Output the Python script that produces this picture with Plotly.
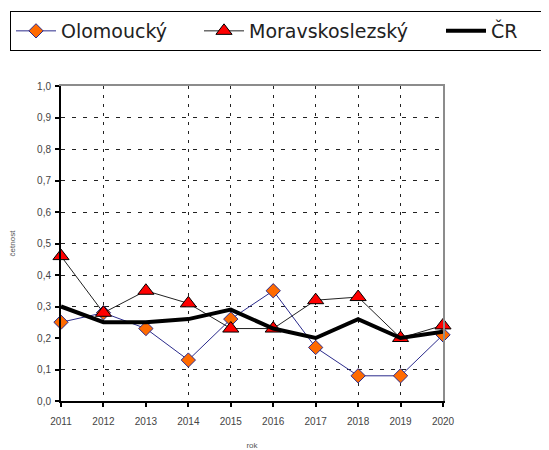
import plotly.graph_objects as go

years = [2011, 2012, 2013, 2014, 2015, 2016, 2017, 2018, 2019, 2020]
year_labels = [str(y) for y in years]
olomoucky = [0.25, 0.28, 0.23, 0.13, 0.26, 0.35, 0.17, 0.08, 0.08, 0.21]
moravskoslezsky = [0.46, 0.28, 0.35, 0.31, 0.23, 0.23, 0.32, 0.33, 0.20, 0.24]
cr = [0.30, 0.25, 0.25, 0.26, 0.29, 0.23, 0.20, 0.26, 0.20, 0.22]
grid_years = [2012, 2014, 2015, 2016, 2017, 2018, 2019]
grid_values = [0.1, 0.3, 0.4, 0.5, 0.6, 0.7, 0.8, 0.9]

# page has an 8px body margin; figure sized to fill the rest of the window
OFF = 8
W, H = 549 - OFF, 450 - OFF
xdom = [(61 - OFF) / W, (443 - OFF) / W]
ydom = [(H - (401 - OFF)) / H, (H - (86 - OFF)) / H]

fig = go.Figure()
fig.add_trace(go.Scatter(
    x=years, y=olomoucky, name="Olomoucký", mode="lines+markers",
    line=dict(color="#2B2B8C", width=1),
    marker=dict(symbol="diamond", size=11, color="#FF6A00",
                line=dict(color="#2B2B8C", width=1)),
    cliponaxis=False, legendwidth=133,
))
fig.add_trace(go.Scatter(
    x=years, y=moravskoslezsky, name="Moravskoslezský", mode="lines+markers",
    line=dict(color="#222222", width=1),
    marker=dict(symbol="triangle-up", size=14, color="#FF0000",
                line=dict(color="#000000", width=1)),
    cliponaxis=False, legendwidth=187,
))
fig.add_trace(go.Scatter(
    x=years, y=cr, name="ČR", mode="lines",
    line=dict(color="#000000", width=4),
    cliponaxis=False, legendwidth=45,
))
# carrier trace for overlay axes (grid + border)
fig.add_trace(go.Scatter(
    x=[None], y=[None], xaxis="x2", yaxis="y2", showlegend=False,
    hoverinfo="skip", mode="lines",
))

tickfont = dict(family="Liberation Sans", size=10, color="#444444")
titlefont = dict(family="Liberation Sans", size=8, color="#555555")

fig.update_layout(
    width=W, height=H,
    margin=dict(l=0, r=0, t=0, b=0),
    paper_bgcolor="white", plot_bgcolor="white",
    separators=",.",
    showlegend=True,
    legend=dict(
        orientation="h", x=(10 - OFF) / W, xanchor="left",
        y=(H - (11 - OFF)) / H, yanchor="top",
        bordercolor="#000000", borderwidth=1, bgcolor="white",
        font=dict(family="DejaVu Sans", size=19, color="#222222"),
        itemwidth=40, tracegroupgap=0,
    ),
    xaxis=dict(
        domain=xdom, range=[2011, 2020], tickmode="array",
        tickvals=years, ticktext=year_labels,
        showline=True, linecolor="#000000", linewidth=1.5,
        ticks="outside", ticklen=4, tickcolor="#000000", tickwidth=1.5,
        ticklabelstandoff=6,
        showgrid=False, zeroline=False, tickfont=tickfont,
        title=dict(text="rok", font=titlefont, standoff=20),
        automargin=False,
    ),
    yaxis=dict(
        domain=ydom, range=[0, 1], dtick=0.1, tick0=0, tickformat=".1f",
        showline=True, linecolor="#000000", linewidth=2,
        ticks="outside", ticklen=4, tickcolor="#000000", tickwidth=1.5,
        ticklabelstandoff=2,
        showgrid=False, zeroline=False, tickfont=tickfont,
        title=dict(text="četnost", font=titlefont, standoff=22),
        automargin=False,
    ),
    xaxis2=dict(
        overlaying="x", anchor="y", side="top", domain=xdom, range=[2011, 2020],
        tickmode="array", tickvals=grid_years, showticklabels=False, ticks="",
        showgrid=True, gridcolor="#222222", gridwidth=1, griddash="3px,6px",
        showline=True, linecolor="#8C8C8C", linewidth=2, zeroline=False,
        automargin=False,
    ),
    yaxis2=dict(
        overlaying="y", anchor="x", side="right", domain=ydom, range=[0, 1],
        tickmode="array", tickvals=grid_values, showticklabels=False, ticks="",
        showgrid=True, gridcolor="#222222", gridwidth=1, griddash="4px,7px",
        showline=True, linecolor="#8C8C8C", linewidth=2, zeroline=False,
        automargin=False,
    ),
)

fig.write_html("out.html")
